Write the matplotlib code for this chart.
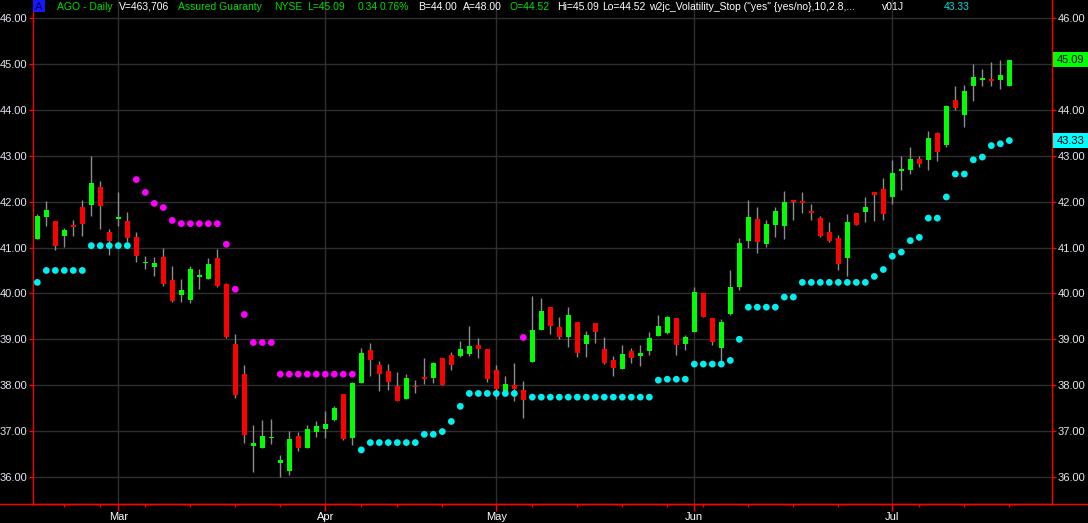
import numpy as np
import matplotlib
matplotlib.use("Agg")
import matplotlib.pyplot as plt
import matplotlib.transforms as mtransforms
from matplotlib.patches import Rectangle
from matplotlib.lines import Line2D

plt.rcParams['font.family'] = ['Liberation Sans', 'DejaVu Sans']

# daily bars, oldest first
opens = [41.19, 41.67, 41.57, 41.25, 41.47, 41.88, 41.93, 42.32, 41.33, 41.63,
         41.57, 41.23, 40.66, 40.58, 40.80, 40.29, 39.97, 39.86, 40.36, 40.31,
         40.77, 40.20, 38.90, 38.25, 36.67, 36.64, 36.84, 36.30, 36.14, 36.90,
         36.64, 36.97, 37.05, 37.25, 37.81, 36.86, 38.05, 38.77, 38.44, 38.31,
         37.98, 37.70, 37.98, 38.18, 38.16, 38.59, 38.66, 38.64, 38.68, 38.88,
         38.79, 38.33, 37.80, 38.00, 37.89, 38.51, 39.20, 39.70, 39.27, 39.04,
         39.38, 38.90, 39.36, 38.78, 38.55, 38.36, 38.75, 38.64, 38.75, 39.08,
         39.13, 39.46, 38.90, 39.17, 40.00, 39.46, 38.82, 39.55, 40.13, 41.14,
         41.62, 41.08, 41.48, 41.46, 42.02, 42.01, 41.80, 41.64, 41.34, 41.21,
         40.78, 41.75, 41.77, 42.22, 42.28, 42.10, 42.67, 42.69, 42.93, 42.90,
         43.50, 43.24, 44.22, 43.89, 44.51, 44.66, 44.68, 44.64, 44.52]
highs = [41.74, 42.02, 41.57, 41.42, 41.60, 42.03, 42.99, 42.45, 41.40, 42.20,
         41.78, 41.34, 40.82, 40.80, 40.99, 40.59, 40.31, 40.60, 40.53, 40.78,
         40.96, 40.23, 39.12, 38.45, 37.14, 37.25, 37.27, 36.49, 37.01, 36.99,
         37.14, 37.23, 37.43, 37.55, 37.81, 38.08, 38.80, 38.93, 38.53, 38.46,
         38.29, 38.24, 38.11, 38.59, 38.51, 38.59, 38.73, 38.97, 39.30, 39.02,
         38.79, 38.44, 38.20, 38.48, 38.10, 39.94, 39.91, 39.70, 39.49, 39.71,
         39.38, 39.19, 39.36, 39.04, 38.64, 38.87, 38.82, 38.88, 39.17, 39.54,
         39.51, 39.46, 39.09, 40.13, 40.00, 39.46, 39.44, 40.51, 41.20, 42.04,
         41.89, 41.59, 41.89, 42.24, 42.02, 42.21, 41.94, 41.69, 41.55, 41.27,
         41.72, 41.75, 42.09, 42.22, 42.51, 42.91, 43.00, 43.20, 43.00, 43.54,
         43.51, 44.11, 44.51, 44.55, 44.99, 44.89, 45.05, 45.08, 45.09]
lows = [41.18, 41.47, 40.94, 41.01, 41.24, 41.24, 41.69, 41.40, 40.84, 41.47,
        41.13, 40.69, 40.53, 40.37, 40.16, 39.81, 39.81, 39.79, 40.09, 40.31,
        40.14, 39.02, 37.73, 36.75, 36.12, 36.64, 36.72, 36.01, 36.04, 36.56,
        36.64, 36.87, 36.85, 37.21, 36.80, 36.70, 38.04, 38.20, 37.87, 37.89,
        37.66, 37.70, 37.84, 38.03, 38.04, 38.00, 38.33, 38.62, 38.64, 38.59,
        38.08, 37.70, 37.80, 37.65, 37.28, 38.50, 39.20, 39.11, 39.00, 38.84,
        38.61, 38.61, 38.93, 38.46, 38.21, 38.36, 38.49, 38.41, 38.66, 39.08,
        39.12, 38.66, 38.77, 39.17, 39.48, 38.88, 38.51, 39.53, 40.08, 41.00,
        40.87, 41.02, 41.22, 41.19, 41.60, 41.76, 41.59, 41.22, 41.11, 40.50,
        40.38, 41.48, 41.56, 41.58, 41.60, 41.94, 42.25, 42.60, 42.76, 42.69,
        42.88, 43.18, 44.00, 43.62, 44.20, 44.51, 44.51, 44.46, 44.52]
closes = [41.68, 41.81, 41.04, 41.38, 41.45, 41.52, 42.40, 41.91, 41.15, 41.66,
          41.20, 40.82, 40.67, 40.66, 40.20, 39.84, 40.07, 40.53, 40.40, 40.64,
          40.16, 39.04, 37.79, 36.91, 36.74, 36.90, 36.85, 36.38, 36.83, 36.64,
          37.05, 37.12, 37.16, 37.51, 36.83, 38.05, 38.70, 38.55, 38.24, 38.08,
          37.66, 38.16, 37.96, 38.13, 38.49, 38.00, 38.43, 38.79, 38.85, 38.79,
          38.13, 37.92, 38.03, 37.92, 37.68, 39.20, 39.62, 39.28, 39.06, 39.54,
          38.71, 39.09, 39.16, 38.49, 38.38, 38.68, 38.60, 38.70, 39.03, 39.29,
          39.49, 38.88, 39.05, 40.03, 39.49, 38.95, 39.37, 40.13, 41.09, 41.66,
          41.11, 41.51, 41.80, 41.99, 42.00, 41.96, 41.75, 41.26, 41.14, 40.65,
          41.56, 41.49, 41.88, 42.14, 41.74, 42.63, 42.68, 42.93, 42.82, 43.39,
          43.09, 44.09, 44.05, 44.42, 44.72, 44.67, 44.62, 44.75, 45.09]

# w2jc volatility stop, one value per bar
stops = [40.24, 40.50, 40.50, 40.50, 40.50, 40.50, 41.04, 41.04, 41.04, 41.04,
         41.04, 42.48, 42.20, 41.96, 41.87, 41.59, 41.52, 41.52, 41.52, 41.52,
         41.52, 41.07, 40.09, 39.54, 38.93, 38.93, 38.93, 38.24, 38.24, 38.24,
         38.24, 38.24, 38.24, 38.24, 38.24, 38.24, 36.59, 36.75, 36.75, 36.75,
         36.75, 36.75, 36.75, 36.93, 36.93, 36.99, 37.21, 37.54, 37.82, 37.82,
         37.82, 37.82, 37.82, 37.82, 39.04, 37.74, 37.74, 37.74, 37.74, 37.74,
         37.74, 37.74, 37.74, 37.74, 37.74, 37.74, 37.74, 37.74, 37.74, 38.11,
         38.13, 38.13, 38.13, 38.46, 38.46, 38.46, 38.46, 38.54, 39.00, 39.70,
         39.70, 39.70, 39.70, 39.92, 39.92, 40.24, 40.24, 40.24, 40.24, 40.24,
         40.24, 40.24, 40.24, 40.37, 40.52, 40.81, 40.90, 41.15, 41.22, 41.64,
         41.64, 42.10, 42.60, 42.60, 42.91, 42.97, 43.22, 43.26, 43.33]

month_pos = [9, 32, 51, 73, 95]
month_names = ['Mar', 'Apr', 'May', 'Jun', 'Jul']
week_pos = [3, 7, 12, 17, 22, 27, 36, 40, 45, 55, 60, 65, 70, 74, 79, 84, 89,
            98, 103, 108]
price_ticks = [36, 37, 38, 39, 40, 41, 42, 43, 44, 45, 46]

W, H = 1088, 523
fig = plt.figure(figsize=(W / 100, H / 100), dpi=100, facecolor='black')
ax = fig.add_axes([33 / W, 19 / H, (1052 - 33) / W, 504 / H])
ax.set_facecolor('black')

o = np.array(opens)
h = np.array(highs)
l = np.array(lows)
c = np.array(closes)
s = np.array(stops)
x = np.arange(len(c))

up = c >= o
body_col = np.where(up, '#00ff00', '#ff0000')
bottoms = np.minimum(o, c)
heights = np.maximum(np.abs(c - o), 0.03)

ax.vlines(x, l, h, color='#8c8c8c', lw=1, zorder=2)
ax.bar(x, heights, width=0.56, bottom=bottoms, color=body_col, linewidth=0,
       zorder=3)

dot_col = np.where(s > c, '#ff00ff', '#00f0f0')
ax.scatter(x, s, s=24, c=dot_col, linewidths=0, zorder=4)

# axes styling
ax.set_yticks(price_ticks)
ax.set_yticklabels(['%.2f' % v for v in price_ticks])
ax.set_xticks(month_pos)
ax.set_xticklabels(month_names)
ax.set_xticks(week_pos, minor=True)
ax.grid(axis='y', color='#2e2e2e', lw=1)
ax.grid(axis='x', which='major', color='#2e2e2e', lw=1)
ax.set_axisbelow(True)

for side in ['left', 'right', 'bottom']:
    ax.spines[side].set_color('red')
    ax.spines[side].set_linewidth(1)
ax.spines['top'].set_visible(False)

ax.tick_params(axis='y', colors='red', labelcolor='#e6e6f0', left=True,
               right=True, labelleft=True, labelright=True, length=3,
               width=1, pad=1, labelsize=8)
ax.tick_params(axis='x', which='major', colors='red', labelcolor='white',
               length=5, width=1, pad=1, labelsize=8)
ax.tick_params(axis='x', which='minor', colors='red', length=2.5, width=1)

fig.add_artist(Line2D([0, 1], [19 / H, 19 / H], color='red', lw=1,
                      transform=fig.transFigure))

# last price / last stop markers on the right scale
blend = mtransforms.blended_transform_factory(fig.transFigure, ax.transData)
for val, bg in [(closes[-1], '#00ff00'), (stops[-1], '#00ffff')]:
    ax.add_patch(Rectangle((1053 / W, val - 0.16), 35 / W, 0.32,
                           transform=blend, facecolor=bg, edgecolor='none',
                           clip_on=False, zorder=6))
    ax.text(1056.5 / W, val, '%.2f' % val, transform=blend, color='black',
            va='center', ha='left', fontsize=8, zorder=7, clip_on=False)

# the last-price box sits over the 45.00 label on the right scale
for tick in ax.yaxis.get_major_ticks():
    if abs(tick.get_loc() - closes[-1]) < 0.3:
        tick.label2.set_visible(False)

ax.set_xlim(-0.478, 112.74)
ax.set_ylim(35.412, 46.392)

# header line
ty = 1 - 6.5 / H
fig.add_artist(Rectangle((33 / W, 1 - 12 / H), 12 / W, 12 / H,
                         transform=fig.transFigure, facecolor='#1818ff',
                         edgecolor='none'))
fig.text(39 / W, ty, 'A', color='#000070', fontsize=8, ha='center', va='center')
green = '#00dd00'
header = [
    (56.7, 'AGO - Daily', green),
    (118.8, 'V=463,706', 'white'),
    (177.9, 'Assured Guaranty', green),
    (273.9, 'NYSE', green),
    (307.0, 'L=45.09', green),
    (357.7, '0.34', green),
    (379.5, '0.76%', green),
    (417.8, 'B=44.00', 'white'),
    (463.0, 'A=48.00', 'white'),
    (510.0, 'O=44.52', green),
    (557.4, 'Hi=45.09', 'white'),
    (602.5, 'Lo=44.52', 'white'),
    (648.6, 'w2jc_Volatility_Stop ("yes" {yes/no},10,2.8,...', 'white'),
    (881.7, 'v01J', 'white'),
    (944.0, '43.33', '#00e0e0'),
]
for px, txt, col in header:
    fig.text(px / W, ty, txt, color=col, fontsize=7.5, ha='left', va='center')

fig.savefig('out.png', dpi=100, facecolor='black')
